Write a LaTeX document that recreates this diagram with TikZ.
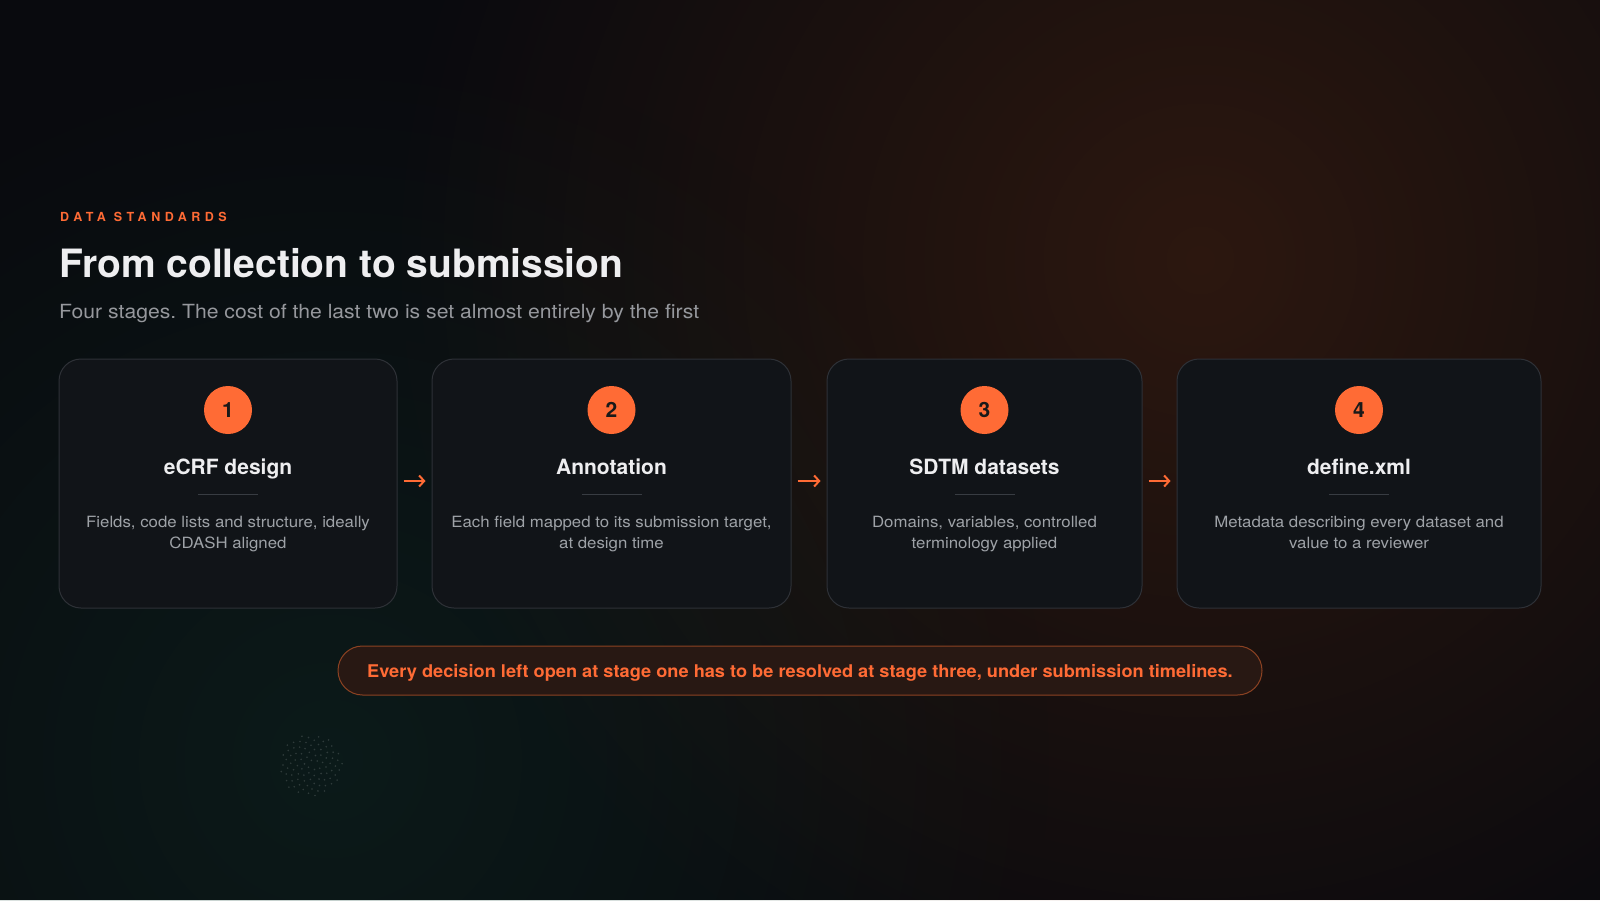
\documentclass[tikz,border=0pt]{standalone}
\usepackage{fontspec}
\setmainfont{TeX Gyre Heros}
\newfontfamily\kickerfont[LetterSpace=36]{TeX Gyre Heros}
\newfontfamily\bodyfont[FakeStretch=1.085]{TeX Gyre Heros}
\newfontfamily\notefont[FakeStretch=1.04]{TeX Gyre Heros}
\usetikzlibrary{arrows.meta,fadings}
\frenchspacing
\definecolor{bgdark}{RGB}{9,10,14}
\definecolor{accent}{RGB}{255,107,53}
\definecolor{warmglow}{RGB}{120,52,18}
\definecolor{coolglow}{RGB}{18,64,52}
\definecolor{cardfill}{RGB}{17,20,24}
\definecolor{cardline}{RGB}{46,49,55}
\definecolor{headtext}{RGB}{238,238,240}
\definecolor{subtext}{RGB}{150,152,157}
\definecolor{bodytext}{RGB}{158,162,167}
\definecolor{rulegray}{RGB}{56,60,66}
\definecolor{pillfill}{RGB}{40,24,19}
\definecolor{pillline}{RGB}{140,66,34}
\tikzfading[name=softglow, inner color=transparent!0, outer color=transparent!100]
\tikzstyle{card} = [draw=cardline, line width=1pt, fill=cardfill, rounded corners=22pt]
\tikzstyle{badge} = [circle, fill=accent, minimum size=48pt, inner sep=0pt, text=black!90,
    font=\fontsize{21}{21}\selectfont\bfseries]
\tikzstyle{stagename} = [anchor=base, inner sep=0pt, text=headtext, font=\fontsize{21}{24}\selectfont\bfseries]
\tikzstyle{stagetext} = [anchor=base, inner sep=0pt, align=center, text=bodytext,
    font=\bodyfont\fontsize{15.5}{21}\selectfont]
\tikzstyle{divider} = [draw=rulegray, line width=1pt]
\tikzstyle{flow} = [draw=accent, line width=2pt, -{Straight Barb[length=5pt,width=11pt]},
    shorten <=6pt, shorten >=6pt]

\begin{document}
\begin{tikzpicture}[x=1pt, y=-1pt]
    % backdrop
    \fill[bgdark] (0,0) rectangle (1600,900);
    \begin{scope}
        \clip (0,0) rectangle (1600,900);
        \fill[warmglow, opacity=0.32, path fading=softglow] (1200,260) circle (820);
        \fill[coolglow, opacity=0.3, path fading=softglow] (330,760) circle (720);
    \end{scope}
    \foreach \k in {1,...,90}
        \fill[white, opacity=0.15] ({311+3.3*sqrt(\k)*cos(137.5*\k)}, {765+3.3*sqrt(\k)*sin(137.5*\k)}) circle (0.9);
    \useasboundingbox (0,0) rectangle (1600,900);

    % heading
    \node[anchor=base west, inner sep=0pt, text=accent, font=\kickerfont\fontsize{12.5}{12.5}\selectfont\bfseries]
        (kicker) at (60,221) {DATA STANDARDS};
    \node[anchor=base west, inner sep=0pt, text=headtext, font=\fontsize{39}{40}\selectfont\bfseries]
        (title) at (59,277) {From collection to submission};
    \node[anchor=base west, inner sep=0pt, text=subtext, font=\bodyfont\fontsize{19.5}{20}\selectfont]
        (subtitle) at (59,318) {Four stages. The cost of the last two is set almost entirely by the first};

    % stage cards
    \node[card, minimum width=338pt, minimum height=249pt] (card1) at (228,483.5) {};
    \node[card, minimum width=359pt, minimum height=249pt] (card2) at (611.5,483.5) {};
    \node[card, minimum width=315pt, minimum height=249pt] (card3) at (984.5,483.5) {};
    \node[card, minimum width=364pt, minimum height=249pt] (card4) at (1359,483.5) {};

    \node[badge] (badge1) at (228,410) {1};
    \node[badge] (badge2) at (611.5,410) {2};
    \node[badge] (badge3) at (984.5,410) {3};
    \node[badge] (badge4) at (1359,410) {4};

    \node[stagename] (name1) at (228,474) {eCRF design};
    \node[stagename] (name2) at (611.5,474) {Annotation};
    \node[stagename] (name3) at (984.5,474) {SDTM datasets};
    \node[stagename] (name4) at (1359,474) {define.xml};

    \draw[divider] (198,494) -- (258,494);
    \draw[divider] (581.5,494) -- (641.5,494);
    \draw[divider] (954.5,494) -- (1014.5,494);
    \draw[divider] (1329,494) -- (1389,494);

    % base of a two-line node sits on its last line
    \node[stagetext] (text1) at (228,548) {Fields, code lists and structure, ideally\\CDASH aligned};
    \node[stagetext] (text2) at (611.5,548) {Each field mapped to its submission target,\\at design time};
    \node[stagetext] (text3) at (984.5,548) {Domains, variables, controlled\\terminology applied};
    \node[stagetext] (text4) at (1359,548) {Metadata describing every dataset and\\value to a reviewer};

    \draw[flow] (card1.east |- 0,481) -- (card2.west |- 0,481);
    \draw[flow] (card2.east |- 0,481) -- (card3.west |- 0,481);
    \draw[flow] (card3.east |- 0,481) -- (card4.west |- 0,481);

    % closing note
    \node[draw=pillline, line width=1pt, fill=pillfill, rounded corners=24.5pt, minimum width=924pt, minimum height=49pt]
        (note) at (800,670.5) {};
    \node[anchor=base, inner sep=0pt, text=accent, font=\notefont\fontsize{17.5}{18}\selectfont\bfseries]
        (notetext) at (800,677) {Every decision left open at stage one has to be resolved at stage three, under submission timelines.};
\end{tikzpicture}
\end{document}
